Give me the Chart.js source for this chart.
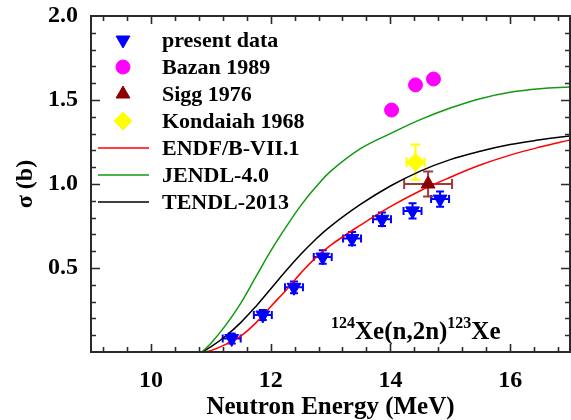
<!DOCTYPE html>
<html>
<head>
<meta charset="utf-8">
<script src="https://cdn.jsdelivr.net/npm/chart.js@4.4.1/dist/chart.umd.min.js"></script>
<style>
  html, body { margin: 0; padding: 0; background: #fff; overflow: hidden; }
  canvas { display: block; }
</style>
</head>
<body>
<canvas id="chart" width="571" height="420"></canvas>
<script>
// tick labels
const xTickValues = [10, 12, 14, 16];
const yTickValues = [0.5, 1.0, 1.5, 2.0];

// present data
const presentE = [11.35, 11.87, 12.39, 12.87, 13.36, 13.86, 14.37, 14.83];
const presentSigma = [0.08, 0.22, 0.385, 0.565, 0.675, 0.79, 0.84, 0.91];
const presentEErr = [0.15, 0.15, 0.15, 0.15, 0.15, 0.15, 0.15, 0.15];
const presentSigmaErr = [0.03, 0.03, 0.035, 0.04, 0.04, 0.04, 0.045, 0.045];

// older measurements
const bazanE = [14.02, 14.42, 14.72];
const bazanSigma = [1.44, 1.59, 1.625];
const siggE = [14.63];
const siggSigma = [1.0];
const siggEErr = [0.4];
const siggSigmaErr = [0.075];
const kondaiahE = [14.42];
const kondaiahSigma = [1.13];
const kondaiahEErr = [0.15];
const kondaiahSigmaErr = [0.105];

// evaluated libraries
const curveE = [10.85, 11.0, 11.25, 11.5, 11.75, 12.0, 12.25, 12.5, 12.75, 13.0, 13.5, 14.0, 14.5, 15.0, 15.5, 16.0, 16.5, 17.0];
const endfSigma = [0, 0.008, 0.045, 0.095, 0.172, 0.27, 0.365, 0.468, 0.56, 0.635, 0.755, 0.865, 0.96, 1.04, 1.113, 1.172, 1.22, 1.262];
const jendlSigma = [0, 0.05, 0.16, 0.29, 0.445, 0.6, 0.74, 0.87, 0.98, 1.075, 1.21, 1.30, 1.383, 1.452, 1.508, 1.546, 1.567, 1.577];
const tendlSigma = [0, 0.03, 0.095, 0.175, 0.27, 0.375, 0.48, 0.58, 0.67, 0.748, 0.878, 0.988, 1.077, 1.145, 1.195, 1.235, 1.263, 1.286];

const serif = '"Liberation Serif", "Times New Roman", serif';
Chart.defaults.font.family = serif;
Chart.defaults.font.weight = 'bold';
Chart.defaults.color = '#000';

const pts = (xs, ys) => xs.map((x, i) => ({ x: x, y: ys[i] }));

const errBars = {
  id: 'errBars',
  beforeDatasetsDraw(chart) {
    const ctx = chart.ctx;
    const xs = chart.scales.x, ys = chart.scales.y;
    chart.data.datasets.forEach(ds => {
      if (!ds.err) return;
      const e = ds.err;
      ctx.save();
      ctx.strokeStyle = e.color;
      ctx.lineWidth = 2;
      ds.data.forEach((p, i) => {
        const px = xs.getPixelForValue(p.x), py = ys.getPixelForValue(p.y);
        const x0 = xs.getPixelForValue(p.x - e.dx[i]), x1 = xs.getPixelForValue(p.x + e.dx[i]);
        const y0 = ys.getPixelForValue(p.y - e.dy[i]), y1 = ys.getPixelForValue(p.y + e.dy[i]);
        ctx.beginPath();
        ctx.moveTo(x0, py); ctx.lineTo(x1, py);
        ctx.moveTo(x0, py - e.cap); ctx.lineTo(x0, py + e.cap);
        ctx.moveTo(x1, py - e.cap); ctx.lineTo(x1, py + e.cap);
        ctx.moveTo(px, y0); ctx.lineTo(px, y1);
        ctx.moveTo(px - e.cap, y0); ctx.lineTo(px + e.cap, y0);
        ctx.moveTo(px - e.cap, y1); ctx.lineTo(px + e.cap, y1);
        ctx.stroke();
      });
      ctx.restore();
    });
  }
};

function drawBox(chart) {
  const ctx = chart.ctx;
  const area = chart.chartArea;
  const xs = chart.scales.x, ys = chart.scales.y;
  const L = area.left, R = area.right, T = area.top, B = area.bottom;
  ctx.save();
  ctx.strokeStyle = '#2a2a2a';
  ctx.lineWidth = 2;
  ctx.beginPath();
  ctx.moveTo(L, T); ctx.lineTo(R, T); ctx.lineTo(R, B); ctx.lineTo(L, B); ctx.closePath();
  ctx.stroke();
  ctx.lineWidth = 1.6;
  ctx.beginPath();
  for (let k = 0; k < 20; k++) {
    const v = 9.2 + k * 0.4;
    if (v >= 16.99) break;
    const px = Math.round(xs.getPixelForValue(v)) + 0.5;
    const major = xTickValues.some(t => Math.abs(t - v) < 1e-6);
    const len = major ? 8 : 5;
    ctx.moveTo(px, B); ctx.lineTo(px, B - len);
    ctx.moveTo(px, T); ctx.lineTo(px, T + len);
  }
  for (let k = 1; k < 20; k++) {
    const py = Math.round(ys.getPixelForValue(k / 10)) + 0.5;
    const len = k % 5 === 0 ? 9 : 5;
    ctx.moveTo(L, py); ctx.lineTo(L + len, py);
    ctx.moveTo(R, py); ctx.lineTo(R - len, py);
  }
  ctx.stroke();
  ctx.restore();
}

const overlay = {
  id: 'overlay',
  afterDraw(chart) {
    drawBox(chart);
    const ctx = chart.ctx;
    ctx.save();
    // legend
    ctx.font = 'bold 22px ' + serif;
    ctx.textBaseline = 'middle';
    chart.data.datasets.forEach((ds, i) => {
      const yy = 40 + i * 27;
      if (ds.type === 'line') {
        ctx.strokeStyle = ds.borderColor;
        ctx.lineWidth = 1.5;
        ctx.beginPath();
        ctx.moveTo(98, yy); ctx.lineTo(149, yy);
        ctx.stroke();
      } else {
        ctx.fillStyle = ds.backgroundColor;
        ctx.strokeStyle = ds.backgroundColor;
        Chart.helpers.drawPoint(ctx, {
          pointStyle: ds.pointStyle, radius: ds.pointRadius,
          rotation: ds.rotation || 0, borderWidth: 1
        }, 123, yy);
      }
      ctx.fillStyle = '#000';
      ctx.fillText(ds.label, 162, yy + 1);
    });
    // reaction label
    const parts = [['124', 16, -11], ['Xe(n,2n)', 25, 0], ['123', 16, -11], ['Xe', 25, 0]];
    ctx.textBaseline = 'alphabetic';
    let cx = 331;
    parts.forEach(([t, size, dy]) => {
      ctx.font = 'bold ' + size + 'px ' + serif;
      ctx.fillText(t, cx, 339 + dy);
      cx += ctx.measureText(t).width;
    });
    ctx.restore();
  }
};

new Chart(document.getElementById('chart'), {
  data: {
    datasets: [
      {
        type: 'scatter', label: 'present data', data: pts(presentE, presentSigma),
        pointStyle: 'triangle', rotation: 180, pointRadius: 8,
        backgroundColor: '#0000ff', borderColor: '#0000ff', borderWidth: 1,
        err: { dx: presentEErr, dy: presentSigmaErr, cap: 4, color: '#0000ff' }
      },
      {
        type: 'scatter', label: 'Bazan 1989', data: pts(bazanE, bazanSigma),
        pointStyle: 'circle', pointRadius: 7,
        backgroundColor: '#ff00ff', borderColor: '#ff00ff', borderWidth: 1
      },
      {
        type: 'scatter', label: 'Sigg 1976', data: pts(siggE, siggSigma),
        pointStyle: 'triangle', pointRadius: 8,
        backgroundColor: '#8b0000', borderColor: '#8b0000', borderWidth: 1,
        err: { dx: siggEErr, dy: siggSigmaErr, cap: 5, color: '#a03a3a' }
      },
      {
        type: 'scatter', label: 'Kondaiah 1968', data: pts(kondaiahE, kondaiahSigma),
        pointStyle: 'rectRot', pointRadius: 9,
        backgroundColor: '#ffff00', borderColor: '#ffff00', borderWidth: 1,
        err: { dx: kondaiahEErr, dy: kondaiahSigmaErr, cap: 5, color: '#ffff00' }
      },
      {
        type: 'line', label: 'ENDF/B-VII.1', data: pts(curveE, endfSigma),
        borderColor: '#ff0000', borderWidth: 1.5, pointRadius: 0, tension: 0.4
      },
      {
        type: 'line', label: 'JENDL-4.0', data: pts(curveE, jendlSigma),
        borderColor: '#109a10', borderWidth: 1.5, pointRadius: 0, tension: 0.4
      },
      {
        type: 'line', label: 'TENDL-2013', data: pts(curveE, tendlSigma),
        borderColor: '#000000', borderWidth: 1.5, pointRadius: 0, tension: 0.4
      }
    ]
  },
  options: {
    responsive: false,
    animation: false,
    layout: { autoPadding: false, padding: { top: 16, right: 1, left: 0, bottom: 0 } },
    scales: {
      x: {
        type: 'linear', min: 9, max: 17,
        afterBuildTicks: s => { s.ticks = xTickValues.map(v => ({ value: v })); },
        afterFit: s => { s.height = 68; s.paddingLeft = 0; s.paddingRight = 0; },
        grid: { display: false, drawTicks: false },
        border: { display: false },
        ticks: { padding: 14, font: { size: 24, weight: 'bold' }, color: '#000', callback: v => v },
        title: {
          display: true, text: 'Neutron Energy (MeV)', color: '#000',
          font: { size: 25, weight: 'bold', lineHeight: 1 }, padding: { top: 0, bottom: 0 }
        }
      },
      y: {
        type: 'linear', min: 0, max: 2,
        afterBuildTicks: s => { s.ticks = yTickValues.map(v => ({ value: v })); },
        afterFit: s => { s.width = 91; s.paddingTop = 0; s.paddingBottom = 0; },
        grid: { display: false, drawTicks: false },
        border: { display: false },
        ticks: { padding: 13, font: { size: 24, weight: 'bold' }, color: '#000', callback: v => v.toFixed(1) },
        title: {
          display: true, text: 'σ (b)', color: '#000',
          font: { size: 24, weight: 'bold', lineHeight: 1.2 }, padding: { top: 11, bottom: 0 }
        }
      }
    },
    plugins: {
      legend: { display: false },
      tooltip: { enabled: false }
    }
  },
  plugins: [errBars, overlay]
});
</script>
</body>
</html>
